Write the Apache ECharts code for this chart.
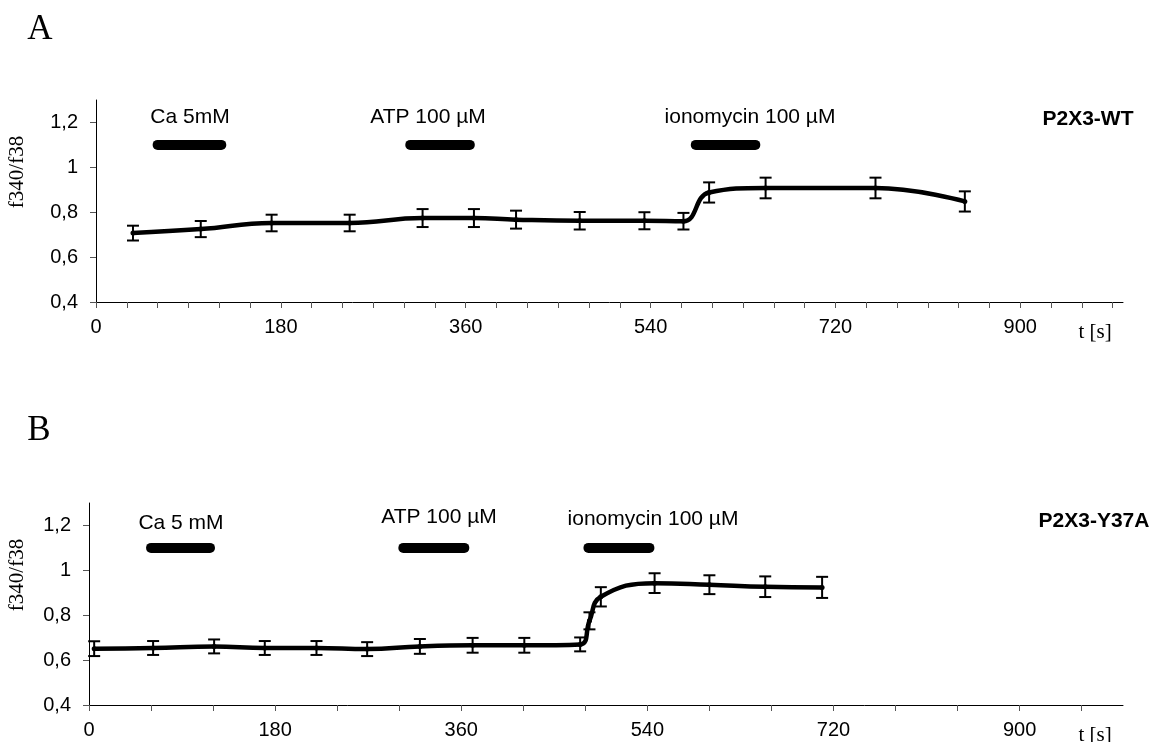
<!DOCTYPE html>
<html>
<head>
<meta charset="utf-8">
<script src="https://cdn.jsdelivr.net/npm/echarts@6/dist/echarts.min.js"></script>
<style>
  html, body { margin: 0; padding: 0; background: #fff; }
  #main { width: 1152px; height: 742px; }
</style>
</head>
<body>
<div id="main"></div>
<script>
// panel A: P2X3-WT
const timeA = [36, 102, 171, 247, 318, 368, 409, 471, 534, 572, 597, 652, 759, 846]
const meanA = [0.707, 0.725, 0.752, 0.752, 0.774, 0.774, 0.767, 0.762, 0.762, 0.76, 0.888, 0.908, 0.908, 0.848]
const errA = [0.033, 0.036, 0.037, 0.037, 0.04, 0.04, 0.04, 0.039, 0.038, 0.037, 0.045, 0.046, 0.046, 0.045]

// panel B: P2X3-Y37A
const timeB = [5, 62, 121, 170, 220, 269, 320, 371, 421, 475, 484, 495, 547, 600, 654, 709]
const meanB = [0.651, 0.654, 0.661, 0.654, 0.654, 0.649, 0.661, 0.666, 0.666, 0.67, 0.775, 0.882, 0.943, 0.936, 0.927, 0.924]
const errB = [0.033, 0.031, 0.031, 0.031, 0.031, 0.031, 0.033, 0.033, 0.033, 0.031, 0.038, 0.043, 0.044, 0.042, 0.046, 0.047]

// application periods (s), drawn at f340/f38 = 1.1
const treatLevel = 1.1
const treatStartA = [60, 306, 584]
const treatEndA = [122, 364, 642]
const treatStartB = [60, 304, 483]
const treatEndB = [117, 363, 542]

// axis ticks
const yTicks = [0.4, 0.6, 0.8, 1, 1.2]
const xLabels = [0, 180, 360, 540, 720, 900]
const xTicksA = []
for (let t = 0; t <= 990; t += 30) xTicksA.push(t)
const xTicksB = []
for (let t = 0; t <= 960; t += 60) xTicksB.push(t)

const SANS = 'Liberation Sans, Arial, sans-serif'
const SERIF = 'Liberation Serif, Times New Roman, serif'

const fmtY = v => String(Math.round(v * 10) / 10).replace('.', ',')

const makeX = (idx, ticks) => ({
  type: 'value',
  gridIndex: idx,
  min: 0,
  max: 1000,
  splitLine: { show: false },
  axisLine: { lineStyle: { color: '#000', width: 1 } },
  axisTick: { customValues: ticks, length: 6, lineStyle: { color: '#555' } },
  axisLabel: { customValues: xLabels, margin: 15, color: '#000', fontSize: 20, fontFamily: SANS }
})

const makeY = idx => ({
  type: 'value',
  gridIndex: idx,
  min: 0.4,
  max: 1.3,
  splitLine: { show: false },
  axisLine: { show: true, onZero: false, lineStyle: { color: '#000', width: 1 } },
  axisTick: { show: true, customValues: yTicks, length: 6, lineStyle: { color: '#555' } },
  axisLabel: { customValues: yTicks, margin: 18, color: '#000', fontSize: 20, fontFamily: SANS, formatter: fmtY }
})

const lineSeries = (idx, times, means) => ({
  type: 'line',
  xAxisIndex: idx,
  yAxisIndex: idx,
  data: times.map((t, i) => [t, means[i]]),
  smooth: 0.45,
  symbol: 'circle',
  symbolSize: 5,
  itemStyle: { color: '#000' },
  lineStyle: { color: '#000', width: 4.5 },
  z: 3,
  animation: false
})

const errSeries = (idx, times, means, errs) => ({
  type: 'custom',
  xAxisIndex: idx,
  yAxisIndex: idx,
  data: times.map((t, i) => [t, means[i], errs[i]]),
  encode: { x: 0, y: 1 },
  z: 4,
  renderItem: (params, api) => {
    const x = api.value(0)
    const v = api.value(1)
    const e = api.value(2)
    const top = api.coord([x, v + e])
    const bot = api.coord([x, v - e])
    const w = 6
    const style = { stroke: '#000', lineWidth: 2 }
    return {
      type: 'group',
      children: [
        { type: 'line', shape: { x1: top[0], y1: top[1], x2: bot[0], y2: bot[1] }, style },
        { type: 'line', shape: { x1: top[0] - w, y1: top[1], x2: top[0] + w, y2: top[1] }, style },
        { type: 'line', shape: { x1: bot[0] - w, y1: bot[1], x2: bot[0] + w, y2: bot[1] }, style }
      ]
    }
  },
  animation: false
})

// thick black bars marking drug application
const treatSeries = (idx, starts, ends) => starts.map((s, i) => ({
  type: 'line',
  xAxisIndex: idx,
  yAxisIndex: idx,
  data: [[s, treatLevel], [ends[i], treatLevel]],
  symbol: 'none',
  lineStyle: { color: '#000', width: 10, cap: 'round' },
  animation: false
}))

const text = (str, x, y, font, extra = {}) => ({
  type: 'text',
  x,
  y,
  ...extra,
  style: { text: str, x: 0, y: 0, font, fill: '#000', align: 'center', verticalAlign: 'middle' }
})

const chart = echarts.init(document.getElementById('main'))
chart.setOption({
  backgroundColor: '#fff',
  animation: false,
  grid: [
    { left: 96, top: 100, width: 1027, height: 202 },
    { left: 89, top: 503, width: 1034, height: 202 }
  ],
  xAxis: [makeX(0, xTicksA), makeX(1, xTicksB)],
  yAxis: [makeY(0), makeY(1)],
  series: [
    ...treatSeries(0, treatStartA, treatEndA),
    ...treatSeries(1, treatStartB, treatEndB),
    lineSeries(0, timeA, meanA),
    lineSeries(1, timeB, meanB),
    errSeries(0, timeA, meanA, errA),
    errSeries(1, timeB, meanB, errB)
  ],
  graphic: [
    text('A', 40, 30, '35px ' + SERIF),
    text('B', 39, 431, '35px ' + SERIF),
    text('f340/f38', 17, 172, '21px ' + SERIF, { rotation: Math.PI / 2 }),
    text('f340/f38', 17, 575, '21px ' + SERIF, { rotation: Math.PI / 2 }),
    text('t [s]', 1095, 332, '21px ' + SERIF),
    text('t [s]', 1095, 735, '21px ' + SERIF),
    text('P2X3-WT', 1088, 119, 'bold 21px ' + SANS),
    text('P2X3-Y37A', 1094, 521, 'bold 21px ' + SANS),
    text('Ca 5mM', 190, 117, '21px ' + SANS),
    text('ATP 100 µM', 428, 117, '21px ' + SANS),
    text('ionomycin 100 µM', 750, 117, '21px ' + SANS),
    text('Ca 5 mM', 181, 523, '21px ' + SANS),
    text('ATP 100 µM', 439, 517, '21px ' + SANS),
    text('ionomycin 100 µM', 653, 519, '21px ' + SANS)
  ]
})
window.addEventListener('resize', () => chart.resize())
</script>
</body>
</html>
